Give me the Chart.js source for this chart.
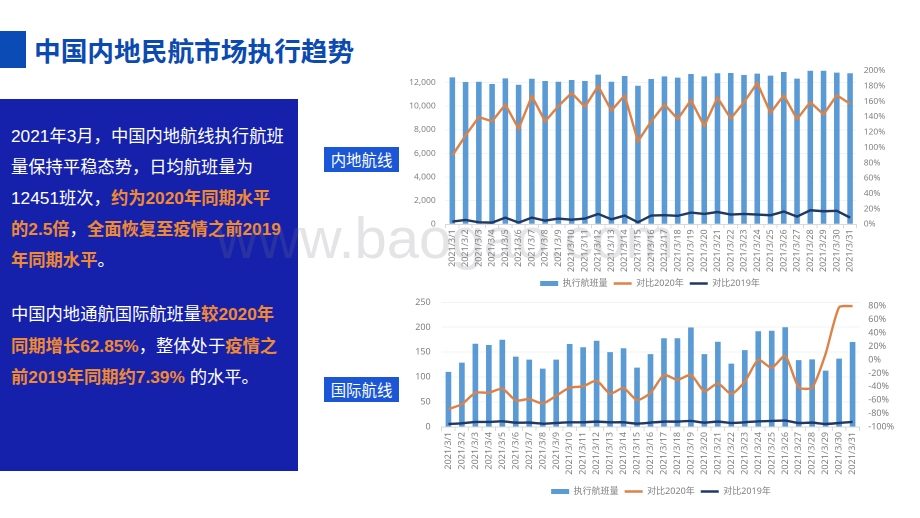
<!DOCTYPE html>
<html lang="zh">
<head>
<meta charset="utf-8">
<title>中国内地民航市场执行趋势</title>
<script src="https://cdn.jsdelivr.net/npm/chart.js@4"></script>
<style>
html, body { margin: 0; padding: 0; background: #fff; }
#page { position: relative; width: 920px; height: 518px; overflow: hidden; font-family: "Liberation Sans", "Noto Sans CJK SC", sans-serif; }
#mark { position: absolute; left: 0; top: 31px; width: 26px; height: 37px; background: #0a4bb5; }
#title { position: absolute; left: 34px; top: 31px; font: bold 26.7px/38px "Noto Sans CJK SC", sans-serif; color: #0b4ab0; white-space: nowrap; }
#panel { position: absolute; left: 0; top: 99px; width: 298px; height: 372px; background: #1621ab; }
.para { position: absolute; left: 11px; color: #fff; font-size: 17.3px; white-space: nowrap; }
.para b { color: #f08a32; font-weight: bold; }
#p1 { top: 22px; line-height: 31px; }
#p2 { top: 200px; line-height: 31.5px; }
.tag { position: absolute; left: 324px; width: 75px; height: 25px; background: #1a56d6; color: #fff; font: 15.4px/25px "Noto Sans CJK SC", sans-serif; text-align: center; }
canvas { position: absolute; }
#c1 { left: 400px; top: 60px; }
#c2 { left: 411px; top: 295px; }
#wm { position: absolute; left: 216px; top: 205px; font: 58px/66px "Liberation Sans", sans-serif; color: rgba(120,120,130,0.2); white-space: nowrap; pointer-events: none; }
</style>
</head>
<body>
<div id="page">
  <div id="mark"></div>
  <div id="title">中国内地民航市场执行趋势</div>
  <div id="panel">
    <div class="para" id="p1">2021年3月，中国内地航线执行航班<br>量保持平稳态势，日均航班量为<br>12451班次，<b>约为2020年同期水平</b><br><b>的2.5倍</b>，<b>全面恢复至疫情之前2019</b><br><b>年同期水平</b>。</div>
    <div class="para" id="p2">中国内地通航国际航班量<b>较2020年</b><br><b>同期增长62.85%</b>，整体处于<b>疫情之</b><br><b>前2019年同期约7.39%</b> 的水平。</div>
  </div>
  <div class="tag" style="top:147px">内地航线</div>
  <div class="tag" style="top:377px">国际航线</div>
  <canvas id="c1" width="500" height="240" style="width:500px;height:240px"></canvas>
  <canvas id="c2" width="500" height="215" style="width:500px;height:215px"></canvas>
  <div id="wm">www.baogao.com</div>
</div>
<script>
const DAYS = [
  "2021/3/1","2021/3/2","2021/3/3","2021/3/4","2021/3/5","2021/3/6","2021/3/7","2021/3/8",
  "2021/3/9","2021/3/10","2021/3/11","2021/3/12","2021/3/13","2021/3/14","2021/3/15","2021/3/16",
  "2021/3/17","2021/3/18","2021/3/19","2021/3/20","2021/3/21","2021/3/22","2021/3/23","2021/3/24",
  "2021/3/25","2021/3/26","2021/3/27","2021/3/28","2021/3/29","2021/3/30","2021/3/31"
];

// 内地航线
const domFlights = [12440,12040,12070,11870,12350,11810,12320,12130,12070,12210,12130,12670,12070,12550,11730,12300,12520,12410,12720,12520,12780,12810,12640,12750,12580,12890,12330,13100,13100,12840,12780];
const domVs2020 = [89.5,115.7,139.7,134,156,124.5,167,134,154,171,153,180,148,168,108,134,156,137,161.6,128,165,137.6,159,184,145,168,137,159,143,168,157];
const domVs2019 = [3.5,5.7,2.6,2.2,8.7,2.2,8.7,4.8,7.4,6,7.4,13.5,6.5,11.4,2.6,11.4,11.8,11,15.3,13.5,16,12.7,13.5,12.7,11.8,16.6,10,18.3,17,17.5,8.7];
const domLeftTicks = [0,2000,4000,6000,8000,10000,12000];
const domRightTicks = [0,20,40,60,80,100,120,140,160,180,200];

// 国际航线
const intlFlights = [110.5,129,167,164.5,175,141,135,117,135,166.5,160,173,150,158,119,146,178,178,199.5,146,171,127,154,192,193,200,134,135.5,113,137,170.5];
const intlVs2020 = [-73.5,-66,-49,-49,-43,-60.5,-58.5,-65,-53.5,-41.5,-39.5,-31,-50.5,-42,-60,-49.5,-22.5,-30,-22.5,-47,-35,-51,-32.5,0,-12,6,-41,-41.5,9,78,80];
const intlVs2019 = [-95.5,-94.5,-92.5,-92.5,-91.5,-93.5,-93.5,-95,-94,-93,-93,-92,-93,-93,-95,-93.5,-92,-92,-91,-93.5,-92,-94,-93,-91.5,-91,-90.5,-94,-93.5,-95.5,-94,-92.5];
const intlLeftTicks = [0,50,100,150,200,250];
const intlRightTicks = [-100,-80,-60,-40,-20,0,20,40,60,80];

const FONT = '"Noto Sans", "Noto Sans CJK SC", sans-serif';
const GREY = '#7f7f7f';

function makeChart(id, s) {
  return new Chart(document.getElementById(id), {
    type: 'bar',
    data: {
      labels: DAYS,
      datasets: [
        { label: '执行航班量', data: s.bars, yAxisID: 'y', order: 3, backgroundColor: '#5b9bd5',
          barPercentage: 0.42, categoryPercentage: 1, pointStyle: 'rect' },
        { type: 'line', label: '对比2020年', data: s.orange, yAxisID: 'y1', order: 1, borderColor: '#dc8246', backgroundColor: '#dc8246',
          borderWidth: 2.4, pointRadius: 0, tension: s.tension, pointStyle: 'line' },
        { type: 'line', label: '对比2019年', data: s.navy, yAxisID: 'y1', order: 2, borderColor: '#1f3864', backgroundColor: '#1f3864',
          borderWidth: 2.4, pointRadius: 0, tension: s.tension, pointStyle: 'line' }
      ]
    },
    options: {
      responsive: false,
      animation: false,
      devicePixelRatio: 2,
      layout: { padding: { top: s.top, bottom: s.bottom, left: 0, right: 0 } },
      plugins: {
        tooltip: { enabled: false },
        legend: {
          position: 'bottom',
          labels: { usePointStyle: true, pointStyleWidth: 18, boxHeight: 5, padding: 6, color: GREY, font: { family: FONT, size: 9 },
            sort: (a, b) => a.datasetIndex - b.datasetIndex }
        }
      },
      scales: {
        x: {
          afterFit(a) { a.height = s.xHeight; },
          grid: { drawOnChartArea: false, tickLength: 4, color: '#d9d9d9' },
          border: { color: '#d9d9d9' },
          ticks: { autoSkip: false, minRotation: 90, maxRotation: 90, padding: 1, color: GREY, font: { family: FONT, size: 9 } }
        },
        y: {
          position: 'left',
          min: 0, max: s.leftMax,
          afterFit(a) { a.width = s.leftW; a.paddingTop = 0; a.paddingBottom = 0; },
          afterBuildTicks(a) { a.ticks = s.leftTicks.map(v => ({ value: v })); },
          grid: { color: '#f2f3f5', drawTicks: false },
          border: { display: false },
          ticks: { autoSkip: false, padding: s.leftPad, color: GREY, font: { family: FONT, size: s.tickSize },
            callback: v => v.toLocaleString('en-US') }
        },
        y1: {
          position: 'right',
          min: s.rightMin, max: s.rightMax,
          afterFit(a) { a.width = s.rightW; a.paddingTop = 0; a.paddingBottom = 0; },
          afterBuildTicks(a) { a.ticks = s.rightTicks.map(v => ({ value: v })); },
          grid: { drawOnChartArea: false, drawTicks: false },
          border: { display: false },
          ticks: { autoSkip: false, padding: s.rightPad, color: GREY, font: { family: FONT, size: s.tickSize },
            callback: v => v + '%' }
        }
      }
    }
  });
}

makeChart('c1', { bars: domFlights, orange: domVs2020, navy: domVs2019, tension: 0, tickSize: 8.5,
  leftTicks: domLeftTicks, rightTicks: domRightTicks, leftPad: 10, rightPad: 7,
  leftMax: 13000, rightMin: 0, rightMax: 200,
  leftW: 45.7, rightW: 43.3, xHeight: 48.7, top: 10.7, bottom: 2 });
makeChart('c2', { bars: intlFlights, orange: intlVs2020, navy: intlVs2019, tension: 0.2, tickSize: 9,
  leftTicks: intlLeftTicks, rightTicks: intlRightTicks, leftPad: 11, rightPad: 9,
  leftMax: 250, rightMin: -100, rightMax: 85.5,
  leftW: 30.7, rightW: 51.7, xHeight: 54, top: 7.3, bottom: 4 });
</script>
</body>
</html>
